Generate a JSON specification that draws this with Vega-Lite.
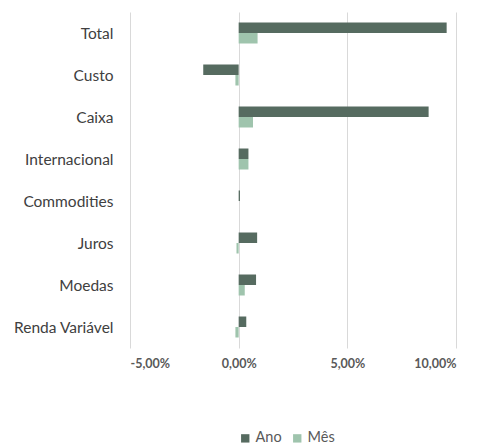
{
  "$schema": "https://vega.github.io/schema/vega-lite/v6.json",
  "autosize": "none",
  "padding": {"left": 130, "top": 12, "right": 25, "bottom": 97},
  "width": 326,
  "height": 336,
  "background": "white",
  "data": {
    "values": [
      {"cat": "Total", "serie": "Ano", "v": 9.57},
      {"cat": "Total", "serie": "Mês", "v": 0.87},
      {"cat": "Custo", "serie": "Ano", "v": -1.63},
      {"cat": "Custo", "serie": "Mês", "v": -0.15},
      {"cat": "Caixa", "serie": "Ano", "v": 8.74},
      {"cat": "Caixa", "serie": "Mês", "v": 0.66},
      {"cat": "Internacional", "serie": "Ano", "v": 0.45},
      {"cat": "Internacional", "serie": "Mês", "v": 0.45},
      {"cat": "Commodities", "serie": "Ano", "v": 0.06},
      {"cat": "Commodities", "serie": "Mês", "v": 0.0},
      {"cat": "Juros", "serie": "Ano", "v": 0.85},
      {"cat": "Juros", "serie": "Mês", "v": -0.1},
      {"cat": "Moedas", "serie": "Ano", "v": 0.8},
      {"cat": "Moedas", "serie": "Mês", "v": 0.28},
      {"cat": "Renda Variável", "serie": "Ano", "v": 0.35},
      {"cat": "Renda Variável", "serie": "Mês", "v": -0.15}
    ]
  },
  "mark": {"type": "bar"},
  "encoding": {
    "y": {
      "field": "cat",
      "type": "nominal",
      "sort": ["Total", "Custo", "Caixa", "Internacional", "Commodities", "Juros", "Moedas", "Renda Variável"],
      "scale": {"paddingInner": 0.5, "paddingOuter": 0.25},
      "axis": {
        "title": null,
        "domain": false,
        "ticks": false,
        "labelPadding": 17,
        "labelFont": "Lato",
        "labelFontSize": 15.5,
        "labelColor": "#404040",
        "labelBaseline": "middle",
        "labelOffset": 1
      }
    },
    "yOffset": {"field": "serie", "type": "nominal", "sort": ["Ano", "Mês"], "scale": {"paddingInner": 0, "paddingOuter": 0}},
    "x": {
      "field": "v",
      "type": "quantitative",
      "scale": {"domain": [-5, 10], "nice": false, "zero": false},
      "axis": {
        "title": null,
        "values": [-5, 0, 5, 10],
        "domain": false,
        "ticks": false,
        "grid": true,
        "gridColor": "#d9d9d9",
        "gridWidth": 1,
        "labelPadding": 9,
        "labelFont": "Lato",
        "labelFontSize": 12.5,
        "labelFontWeight": "bold",
        "labelColor": "#595959",
        "labelExpr": "(datum.value < 0 ? '-' : '') + replace(format(abs(datum.value), '.2f'), '.', ',') + '%'"
      }
    },
    "color": {
      "field": "serie",
      "type": "nominal",
      "sort": ["Ano", "Mês"],
      "scale": {"domain": ["Ano", "Mês"], "range": ["#566b60", "#9fc4ad"]},
      "legend": {
        "title": null,
        "orient": "none",
        "direction": "horizontal",
        "legendX": 108,
        "legendY": 419,
        "symbolType": "square",
        "symbolSize": 70,
        "symbolStrokeWidth": 0,
        "labelFont": "Lato",
        "labelFontSize": 14.5,
        "labelColor": "#595959",
        "labelOffset": 3,
        "columnPadding": 8
      }
    }
  },
  "config": {"view": {"stroke": null}}
}
